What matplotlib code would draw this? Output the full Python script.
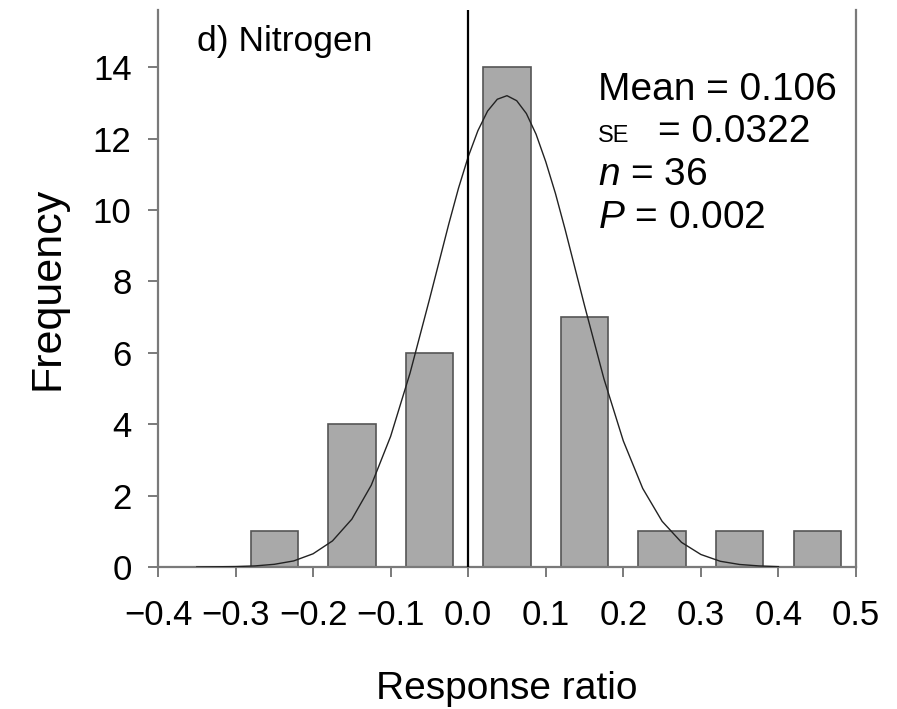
import numpy as np
import matplotlib
matplotlib.use("Agg")
import matplotlib.pyplot as plt

plt.rcParams["font.family"] = ["Liberation Sans", "DejaVu Sans"]
plt.rcParams["mathtext.fontset"] = "custom"
plt.rcParams["mathtext.it"] = "Liberation Sans:italic"
plt.rcParams["mathtext.rm"] = "Liberation Sans"
plt.rcParams["axes.unicode_minus"] = True

# histogram bins (response ratio) and counts
bin_centers = [-0.25, -0.15, -0.05, 0.05, 0.15, 0.25, 0.35, 0.45]
counts = [1, 4, 6, 14, 7, 1, 1, 1]

curve_x = [-0.35, -0.30, -0.275, -0.25, -0.225, -0.20, -0.175, -0.15, -0.125,
           -0.10, -0.075, -0.05, -0.025, -0.0125, 0.0, 0.0125, 0.025, 0.0375,
           0.05, 0.0625, 0.075, 0.0875, 0.10, 0.1125, 0.125, 0.15, 0.175,
           0.20, 0.225, 0.25, 0.275, 0.30, 0.325, 0.35, 0.375, 0.40]
curve_y = [0.0, 0.012, 0.03, 0.075, 0.17, 0.37, 0.73, 1.34, 2.29,
           3.66, 5.43, 7.49, 9.61, 10.61, 11.49, 12.22, 12.77, 13.10,
           13.20, 13.06, 12.70, 12.12, 11.35, 10.46, 9.45, 7.32, 5.27,
           3.53, 2.20, 1.28, 0.69, 0.35, 0.16, 0.07, 0.03, 0.01]

xticks = [-0.4, -0.3, -0.2, -0.1, 0.0, 0.1, 0.2, 0.3, 0.4, 0.5]
yticks = [0, 2, 4, 6, 8, 10, 12, 14]

fig = plt.figure(figsize=(8.97, 7.09), dpi=100)
ax = fig.add_axes([0.1761, 0.2003, 0.7782, 0.7856])

spine_col = "#7a7a7a"
ax.bar(bin_centers, counts, width=0.061, color="#a9a9a9",
       edgecolor="#555555", linewidth=1.2, zorder=2)
ax.plot(curve_x, curve_y, color="#222222", lw=1.0, zorder=3)
ax.axvline(0, color="black", lw=1.6, zorder=4)

ax.set_xlim(-0.4, 0.5)
ax.set_ylim(0, 15.6)
ax.set_xticks(xticks)
ax.set_xticklabels([f"{t:.1f}".replace("-", "\u2212") for t in xticks])
ax.set_yticks(yticks)

ax.spines["top"].set_visible(False)
for side in ["left", "right", "bottom"]:
    ax.spines[side].set_color(spine_col)
    ax.spines[side].set_linewidth(1.6)

ax.tick_params(axis="both", direction="out", length=7, width=1.4,
               color=spine_col, labelsize=25)
ax.tick_params(axis="x", pad=16)
ax.tick_params(axis="y", pad=12)

ax.set_xlabel("Response ratio", fontsize=28, labelpad=28)
ax.set_ylabel("Frequency", fontsize=31, labelpad=18)

ax.text(-0.35, 14.45, "d) Nitrogen", fontsize=25.5, va="baseline", ha="left")

tx = 0.167
ax.text(tx, 13.08, "Mean = 0.106", fontsize=28, va="baseline")
ax.text(tx, 11.90, "SE", fontsize=17, va="baseline")
ax.text(0.2447, 11.90, "= 0.0322", fontsize=28, va="baseline")
ax.text(tx, 10.70, "$\\it{n}$ = 36", fontsize=28, va="baseline")
ax.text(tx, 9.50, "$\\it{P}$ = 0.002", fontsize=28, va="baseline")

fig.savefig("out.png", dpi=100)
